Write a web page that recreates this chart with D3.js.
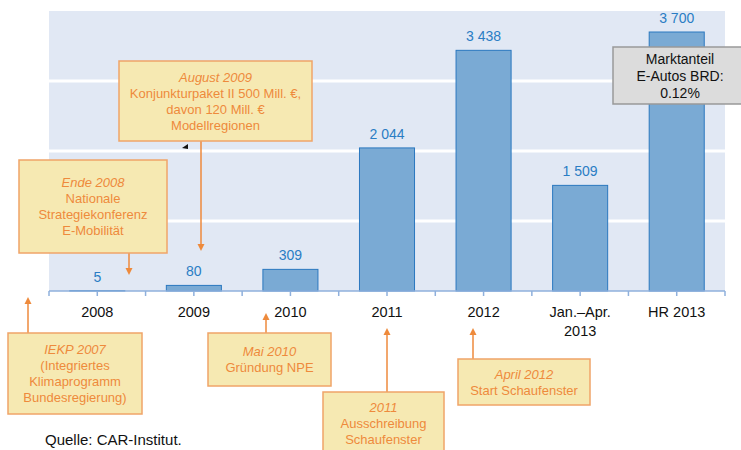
<!DOCTYPE html>
<html>
<head>
<meta charset="utf-8">
<script src="https://d3js.org/d3.v7.min.js"></script>
<style>
  body { margin: 0; background: #fff; }
  svg { display: block; font-family: "Liberation Sans", Arial, sans-serif; }
</style>
</head>
<body>
<div id="chart"></div>
<script>
// chart data
const categories = ["2008", "2009", "2010", "2011", "2012", "Jan.–Apr.|2013", "HR 2013"];
const values = [5, 80, 309, 2044, 3438, 1509, 3700];
const valueLabels = ["5", "80", "309", "2 044", "3 438", "1 509", "3 700"];
const gridValues = [1000, 2000, 3000];

// annotation texts (first line italic)
const noteTexts = [
  ["August 2009", "Konjunkturpaket II 500 Mill. €,", "davon 120 Mill. €", "Modellregionen"],
  ["Ende 2008", "Nationale", "Strategiekonferenz", "E-Mobilität"],
  ["IEKP 2007", "(Integriertes", "Klimaprogramm", "Bundesregierung)"],
  ["Mai 2010", "Gründung NPE"],
  ["2011", "Ausschreibung", "Schaufenster"],
  ["April 2012", "Start Schaufenster"]
];
const shareText = ["Marktanteil", "E-Autos BRD:", "0.12%"];
const sourceText = "Quelle: CAR-Institut.";

const W = 741, H = 450;
const m = { left: 49, right: 16, top: 11, bottom: 159 };

const svg = d3.select("#chart").append("svg")
  .attr("width", W).attr("height", H);

const x = d3.scaleBand()
  .domain(categories)
  .range([m.left, W - m.right])
  .paddingInner(0.43).paddingOuter(0.215);
const xb = d3.scaleBand().domain(categories).range([m.left, W - m.right]);
const y = d3.scaleLinear().domain([0, 4000]).range([H - m.bottom, m.top]);

// background
svg.append("rect")
  .attr("x", m.left).attr("y", y(4000))
  .attr("width", W - m.right - m.left).attr("height", y(0) - y(4000))
  .attr("fill", "#e1e8f4");

// gridlines
svg.append("g").selectAll("line").data(gridValues).join("line")
  .attr("x1", m.left).attr("x2", W - m.right)
  .attr("y1", d => y(d)).attr("y2", d => y(d))
  .attr("stroke", "#fff").attr("stroke-width", 3);

// bars
svg.append("g").selectAll("rect").data(values).join("rect")
  .attr("x", (d, i) => x(categories[i]))
  .attr("y", d => y(d))
  .attr("width", x.bandwidth())
  .attr("height", d => y(0) - y(d))
  .attr("fill", "#7aaad4")
  .attr("stroke", "#2a78bf").attr("stroke-width", 1);

// value labels
svg.append("g").selectAll("text").data(values).join("text")
  .attr("x", (d, i) => x(categories[i]) + x.bandwidth() / 2)
  .attr("y", d => y(d) - 9)
  .attr("text-anchor", "middle")
  .attr("font-size", 14)
  .attr("fill", "#2a7dc4")
  .text((d, i) => valueLabels[i]);

// x axis: ticks at band edges and band centres
const ax = svg.append("g");
ax.append("line")
  .attr("x1", m.left).attr("x2", W - m.right)
  .attr("y1", y(0)).attr("y2", y(0))
  .attr("stroke", "#8fb0dc").attr("stroke-width", 1.5);
const edges = categories.map(c => xb(c)).concat([W - m.right]);
const centers = categories.map(c => xb(c) + xb.bandwidth() / 2);
ax.selectAll(".tk").data(edges.concat(centers)).join("line")
  .attr("x1", d => d).attr("x2", d => d)
  .attr("y1", y(0)).attr("y2", y(0) + 5)
  .attr("stroke", "#8fb0dc").attr("stroke-width", 1.5);

ax.selectAll(".xl").data(categories).join("text")
  .attr("text-anchor", "middle")
  .attr("font-size", 14.5)
  .attr("fill", "#111")
  .each(function(d) {
    const t = d3.select(this);
    d.split("|").forEach((s, k) => {
      t.append("tspan")
        .attr("x", xb(d) + xb.bandwidth() / 2)
        .attr("y", y(0) + 26 + k * 19)
        .text(s);
    });
  });

// annotation boxes: layout
const noteBoxes = [
  { x: 119, y: 61, w: 193, h: 80, ax: 201, ay1: 141, ay2: 251 },
  { x: 19, y: 160, w: 148, h: 93, ax: 129, ay1: 253, ay2: 275 },
  { x: 8, y: 333, w: 134, h: 81, ax: 28, ay1: 333, ay2: 297 },
  { x: 208, y: 333, w: 123, h: 53, ax: 266, ay1: 333, ay2: 313 },
  { x: 323, y: 392, w: 121, h: 70, ax: 387, ay1: 392, ay2: 328 },
  { x: 458, y: 359, w: 132, h: 46, ax: 473, ay1: 359, ay2: 328 }
];

const orange = "#ee8a3c";
const notes = svg.append("g");
noteBoxes.forEach((b, i) => {
  const g = notes.append("g");
  g.append("line")
    .attr("x1", b.ax).attr("x2", b.ax)
    .attr("y1", b.ay1).attr("y2", b.ay2 + (b.ay2 > b.ay1 ? -4 : 4))
    .attr("stroke", orange).attr("stroke-width", 1.5);
  const dir = b.ay2 > b.ay1 ? 1 : -1;
  g.append("path")
    .attr("d", `M${b.ax},${b.ay2} L${b.ax - 3.5},${b.ay2 - dir * 7} L${b.ax + 3.5},${b.ay2 - dir * 7} Z`)
    .attr("fill", orange);
  g.append("rect")
    .attr("x", b.x).attr("y", b.y).attr("width", b.w).attr("height", b.h)
    .attr("fill", "#f6e9b2").attr("stroke", "#f0a468").attr("stroke-width", 1.5);
  const lines = noteTexts[i];
  const lh = 16;
  const top = b.y + b.h / 2 - (lines.length - 1) * lh / 2 + 4.5;
  const t = g.append("text")
    .attr("text-anchor", "middle")
    .attr("font-size", 13)
    .attr("fill", orange);
  lines.forEach((s, k) => {
    t.append("tspan")
      .attr("x", b.x + b.w / 2)
      .attr("y", (i === 4 ? b.y + 20 : top) + k * lh)
      .attr("font-style", k === 0 ? "italic" : null)
      .text(s);
  });
});

// small black marker under the August box
svg.append("path")
  .attr("d", "M182,148 L188,144 L188,149 Z")
  .attr("fill", "#111");

// market share box
const sb = svg.append("g");
sb.append("rect")
  .attr("x", 613).attr("y", 47).attr("width", 130).attr("height", 57)
  .attr("fill", "#dcdcdc").attr("stroke", "#999").attr("stroke-width", 1.5);
const st = sb.append("text").attr("text-anchor", "middle")
  .attr("font-size", 14).attr("fill", "#111");
shareText.forEach((s, k) => {
  st.append("tspan").attr("x", 680).attr("y", 64 + k * 17).text(s);
});

// source
svg.append("text")
  .attr("x", 45).attr("y", 445)
  .attr("font-size", 15).attr("fill", "#111")
  .text(sourceText);
</script>
</body>
</html>
